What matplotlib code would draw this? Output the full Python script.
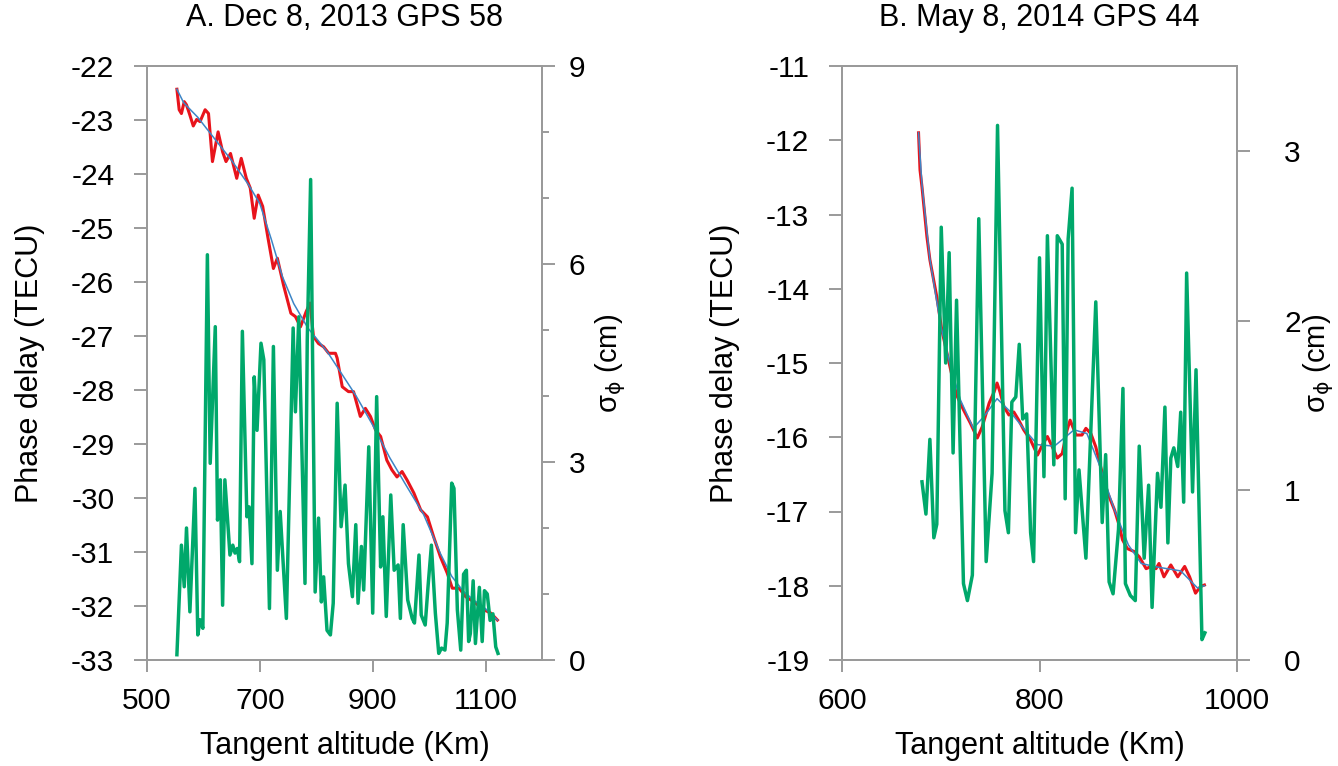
import numpy as np
import matplotlib
matplotlib.use('Agg')
from matplotlib import pyplot as plt
from matplotlib.ticker import MultipleLocator

plt.rcParams['font.family'] = ['Liberation Sans', 'DejaVu Sans']
plt.rcParams['axes.unicode_minus'] = False

# ---- panel A: Dec 8, 2013 GPS 58 ----
a_alt = [553, 557, 561, 566, 570, 576, 582, 588, 594, 603, 609, 616, 626, 634, 640, 648,
         659, 667, 676, 683, 690, 697, 705, 714, 724, 731, 742, 755, 763, 772, 782, 789,
         795, 804, 813, 822, 834, 837, 846, 857, 866, 878, 887, 896, 905, 914, 925, 934,
         943, 952, 961, 973, 985, 997, 1008, 1020, 1032, 1041, 1053, 1065, 1079, 1097,
         1109, 1121]
a_phase = [-22.43, -22.81, -22.88, -22.66, -22.72, -22.91, -23.11, -22.99, -23.03, -22.81,
           -22.88, -23.77, -23.22, -23.59, -23.77, -23.62, -24.08, -23.71, -24.08, -24.26,
           -24.82, -24.39, -24.60, -25.16, -25.75, -25.56, -26.06, -26.58, -26.64, -26.83,
           -26.55, -26.39, -27.01, -27.14, -27.20, -27.32, -27.32, -27.41, -27.94, -28.03,
           -28.03, -28.49, -28.34, -28.49, -28.74, -28.86, -29.30, -29.48, -29.61, -29.51,
           -29.67, -29.91, -30.22, -30.35, -30.72, -31.09, -31.39, -31.67, -31.67, -31.83,
           -31.92, -32.07, -32.13, -32.26]

a_fit_alt = [553, 565, 590, 620, 650, 680, 700, 720, 740, 760, 785, 820, 845, 870, 900,
             930, 960, 990, 1020, 1040, 1060, 1080, 1100, 1121]
a_fit = [-22.43, -22.68, -22.95, -23.35, -23.75, -24.2, -24.55, -25.2, -25.9, -26.4,
         -26.85, -27.3, -27.7, -28.1, -28.65, -29.25, -29.78, -30.3, -31.03, -31.45,
         -31.72, -31.9, -32.05, -32.26]

a_sig_alt = [553, 561, 566, 570, 576, 585, 590, 594, 599, 607, 612, 621, 625, 630, 634,
             638, 647, 652, 656, 660, 664, 669, 677, 681, 686, 690, 695, 702, 707, 717,
             724, 731, 736, 747, 759, 763, 769, 780, 784, 790, 798, 804, 809, 813, 819,
             825, 830, 837, 844, 851, 857, 864, 870, 874, 880, 884, 893, 900, 907, 914,
             918, 924, 932, 938, 945, 949, 954, 962, 970, 974, 982, 986, 993, 998, 1004,
             1011, 1017, 1022, 1028, 1032, 1040, 1044, 1050, 1056, 1061, 1066, 1070, 1073,
             1078, 1082, 1089, 1094, 1098, 1103, 1108, 1113, 1118, 1122]
a_sig = [0.08, 1.74, 1.11, 2.0, 0.73, 2.6, 0.38, 0.61, 0.48, 6.14, 2.98, 5.05, 2.12, 2.73,
         0.83, 2.73, 1.59, 1.74, 1.62, 1.69, 1.49, 4.98, 2.17, 2.32, 1.46, 4.29, 3.48, 4.8,
         4.55, 0.78, 4.75, 1.36, 2.25, 0.63, 5.03, 3.76, 5.2, 1.16, 4.85, 7.28, 1.03, 2.15,
         0.88, 1.26, 0.45, 0.38, 0.86, 3.89, 2.02, 2.65, 1.46, 0.96, 2.05, 0.86, 1.72, 1.06,
         3.23, 0.71, 3.99, 1.41, 2.17, 0.66, 2.5, 1.36, 1.44, 0.63, 2.05, 0.91, 0.63, 0.56,
         1.59, 0.68, 0.53, 1.11, 1.74, 0.71, 0.10, 0.18, 0.15, 0.56, 2.68, 2.6, 0.76, 0.15,
         1.3, 1.36, 0.28, 0.4, 1.2, 0.25, 1.1, 0.28, 1.05, 1.0, 0.6, 0.7, 0.2, 0.1]

# ---- panel B: May 8, 2014 GPS 44 ----
b_alt = [677.5, 679, 681, 686, 689, 696, 701, 703, 710, 716, 723, 730, 737, 742, 749, 754,
         757, 760, 764, 769, 774, 779, 784, 791, 798, 803, 808, 813, 818, 823, 828, 831,
         837, 843, 847, 852, 857, 862, 869, 876, 881, 884, 889, 896, 901, 908, 913, 918,
         921, 926, 933, 940, 947, 952, 958, 963, 967]
b_phase = [-11.90, -12.40, -12.63, -13.30, -13.61, -14.11, -14.55, -14.67, -15.09, -15.43,
           -15.63, -15.81, -16.01, -15.86, -15.54, -15.39, -15.27, -15.39, -15.59, -15.70,
           -15.66, -15.77, -15.90, -16.04, -16.24, -16.10, -15.99, -16.13, -16.28, -16.22,
           -15.90, -15.77, -15.97, -15.97, -15.88, -15.95, -16.13, -16.40, -16.75, -16.98,
           -17.20, -17.38, -17.50, -17.54, -17.61, -17.77, -17.74, -17.77, -17.70, -17.88,
           -17.72, -17.88, -17.74, -17.88, -18.10, -18.01, -17.99]

b_fit_alt = [677.5, 681, 689, 700, 710, 720, 733, 745, 757, 770, 785, 798, 815, 826, 835,
             848, 860, 876, 890, 903, 920, 943, 960, 967]
b_fit = [-11.9, -12.6, -13.6, -14.5, -15.05, -15.5, -15.88, -15.7, -15.48, -15.65, -15.9,
         -16.1, -16.12, -16.0, -15.9, -15.95, -16.35, -16.98, -17.45, -17.7, -17.75, -17.8,
         -18.03, -18.0]

b_sig_alt = [681, 685, 689, 693, 696, 700.5, 705, 708.5, 712.5, 716, 723, 727, 732, 738.5,
             746, 752, 757.5, 765, 768.5, 772, 776, 779.5, 783, 787, 791, 794, 800, 804.5,
             808, 814.5, 818, 823, 826, 829, 833, 836.5, 840, 847, 857, 863.5, 867, 870.5,
             874.5, 880, 884.5, 887, 892, 897, 901, 906, 910.5, 914, 919.5, 923, 927, 930,
             933, 936, 940, 943, 946, 949, 955, 958.5, 964.5, 967.5]
b_sig = [1.05, 0.86, 1.30, 0.72, 0.80, 2.55, 1.75, 2.40, 1.22, 2.12, 0.45, 0.35, 0.50, 2.60,
         0.58, 1.10, 3.15, 0.88, 0.75, 1.52, 1.55, 1.86, 1.42, 1.45, 0.75, 0.58, 2.37, 1.08,
         2.50, 1.15, 2.50, 2.45, 0.95, 2.48, 2.78, 0.75, 1.12, 0.60, 2.11, 0.81, 1.21, 0.46,
         0.39, 0.77, 1.60, 0.45, 0.38, 0.35, 1.26, 0.60, 1.03, 0.31, 1.10, 0.90, 1.49, 0.69,
         1.19, 1.25, 1.14, 1.46, 0.93, 2.28, 0.99, 1.71, 0.12, 0.16]

red = '#e8141c'
blue = '#3d85c6'
green = '#00a86b'
grey = '#9a9a9a'
fs = 21.5

W, H = 1338, 766
fig = plt.figure(figsize=(W / 100, H / 100), dpi=100)


def panel(left_px, title, alt, phase, fit_alt, fit, sig_alt, sig,
          xlim, xticks, ylim, yticks, slim, sticks, sminor, rpad, rlab_x):
    pos = [left_px / W, (H - 660) / H, 395 / W, 594 / H]
    ax = fig.add_axes(pos)
    ax2 = ax.twinx()
    ax2.set_position(pos)

    ax.plot(alt, phase, color=red, lw=2.2, zorder=2)
    ax.plot(fit_alt, fit, color=blue, lw=1.1, zorder=3)
    ax2.plot(sig_alt, sig, color=green, lw=2.5)

    ax.set_xlim(*xlim)
    ax.set_xticks(xticks)
    ax.set_ylim(*ylim)
    ax.set_yticks(yticks)
    ax2.set_ylim(*slim)
    ax2.set_yticks(sticks)
    if sminor:
        ax2.yaxis.set_minor_locator(MultipleLocator(sminor))

    for a in (ax, ax2):
        for s in a.spines.values():
            s.set_color(grey)
            s.set_linewidth(1.4)
    ax.tick_params(axis='y', direction='out', length=9.5, width=1.4, color=grey,
                   labelsize=fs, pad=14)
    ax.tick_params(axis='x', direction='out', length=8.6, width=1.4, color=grey,
                   labelsize=fs, pad=11)
    ax2.tick_params(axis='y', which='major', direction='out', length=9, width=1.4,
                    color=grey, labelsize=fs, pad=rpad)
    ax2.tick_params(axis='y', which='minor', direction='out', length=5, width=1.4,
                    color=grey)

    ax.set_xlabel('Tangent altitude (Km)', fontsize=22)
    ax.xaxis.set_label_coords(0.5, -0.12)
    ax.set_ylabel('Phase delay (TECU)', fontsize=22)
    ax.yaxis.set_label_coords(-0.258, 0.5)
    ax2.set_ylabel(r'σ$_{\mathrm{ϕ}}$ (cm)', fontsize=21)
    ax2.yaxis.set_label_coords(rlab_x, 0.5)
    ax.set_title(title, fontsize=22, pad=29)
    return ax, ax2


panel(147, 'A. Dec 8, 2013 GPS 58', a_alt, a_phase, a_fit_alt, a_fit, a_sig_alt, a_sig,
      (500, 1200), [500, 700, 900, 1100], (-33, -22), list(range(-33, -21)),
      (0, 9), [0, 3, 6, 9], 1, 10, 1.13)
panel(842, 'B. May 8, 2014 GPS 44', b_alt, b_phase, b_fit_alt, b_fit, b_sig_alt, b_sig,
      (600, 1000), [600, 800, 1000], (-19, -11), list(range(-19, -10)),
      (0, 3.5), [0, 1, 2, 3], None, 25, 1.163)

fig.savefig('out.png', dpi=100)
